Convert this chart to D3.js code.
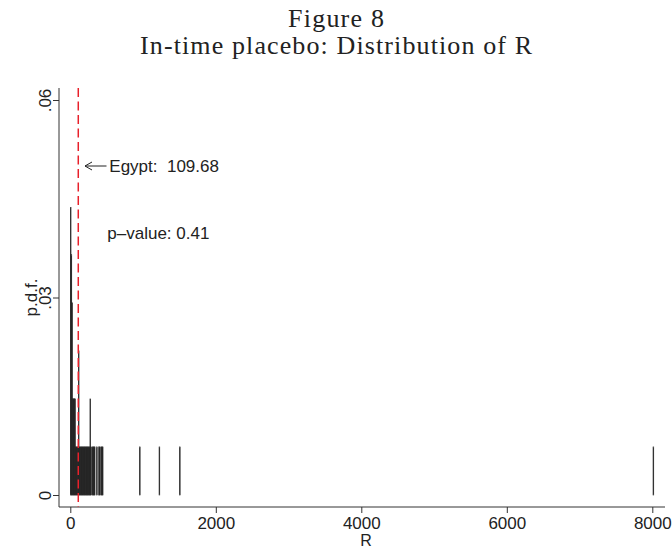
<!DOCTYPE html>
<html>
<head>
<meta charset="utf-8">
<script src="https://cdn.jsdelivr.net/npm/d3@7"></script>
<style>
  body { margin: 0; background: #fff; }
  svg { display: block; }
  text { font-family: "Liberation Sans", Arial, sans-serif; fill: #222; }
</style>
</head>
<body>
<svg id="chart" width="672" height="550"></svg>
<script>
// ---- Data ----
const titleLines = ["Figure 8", "In-time placebo: Distribution of R"];
const binWidth = 10;
const binStart = [0, 10, 20, 30, 40, 50, 60, 70, 80, 90, 100, 110, 120, 130, 140, 150, 160, 170, 180, 190, 200, 210, 220, 230, 240, 250, 260, 270, 280,
                  300, 310, 320, 330, 360, 390, 400, 420, 430, 440, 950, 1220, 1500, 8010];
const binDensity = [0.0437, 0.0365, 0.0292, 0.0146, 0.0146, 0.0146, 0.0146, 0.0073, 0.0073, 0.0073, 0.0073, 0.0219, 0.0073, 0.0073, 0.0073, 0.0073, 0.0073, 0.0073, 0.0073, 0.0073, 0.0073, 0.0073, 0.0073, 0.0073, 0.0073, 0.0073, 0.0073, 0.0146, 0.0073,
                    0.0073, 0.0073, 0.0073, 0.0073, 0.0073, 0.0073, 0.0073, 0.0073, 0.0073, 0.0073, 0.0073, 0.0073, 0.0073, 0.0073];
const xTicks = [0, 2000, 4000, 6000, 8000];
const yTicks = [0, 0.03, 0.06];
const yTickLabels = ["0", ".03", ".06"];
const egyptR = 109.68;
const egyptLabel = "Egypt:  109.68";
const pLabel = "p\u2013value: 0.41";
const xTitle = "R";
const yTitle = "p.d.f.";

// ---- Layout ----
const svg = d3.select("#chart");
const x = d3.scaleLinear().domain([0, 8000]).range([70.3, 652.3]);
const y = d3.scaleLinear().domain([0, 0.06]).range([495, 100]);
const plotLeft = 59, plotRight = 665, plotTop = 88, plotBottom = 507;
const ink = "#222";
const serif = "'Liberation Serif', 'Times New Roman', serif";

// Title
svg.append("text").attr("x", 336).attr("y", 27).attr("text-anchor", "middle")
  .style("font-family", serif).style("font-size", "26px")
  .attr("textLength", 96).attr("lengthAdjust", "spacing")
  .text(titleLines[0]);
svg.append("text").attr("x", 336).attr("y", 54).attr("text-anchor", "middle")
  .style("font-family", serif).style("font-size", "26px")
  .attr("textLength", 392).attr("lengthAdjust", "spacing")
  .text(titleLines[1]);

// Bars
const bins = binStart.map((s, i) => ({ s: s, d: binDensity[i] }));
svg.append("g").selectAll("rect").data(bins).join("rect")
  .attr("x", d => x(d.s))
  .attr("width", d => x(d.s + binWidth) - x(d.s))
  .attr("y", d => y(d.d))
  .attr("height", d => y(0) - y(d.d))
  .attr("fill", ink).attr("stroke", ink).attr("stroke-width", 0.6);

// Axis lines
svg.append("line").attr("x1", plotLeft).attr("x2", plotRight).attr("y1", plotBottom).attr("y2", plotBottom)
  .attr("stroke", "#333").attr("stroke-width", 1);
svg.append("line").attr("x1", plotLeft).attr("x2", plotLeft).attr("y1", plotTop).attr("y2", plotBottom)
  .attr("stroke", "#333").attr("stroke-width", 1);

// X axis
const xAxis = svg.append("g").attr("transform", `translate(0,${plotBottom})`)
  .call(d3.axisBottom(x).tickValues(xTicks).tickFormat(d3.format("d")).tickSize(6).tickPadding(4));
xAxis.select(".domain").remove();
xAxis.selectAll(".tick line").attr("stroke", "#333");
xAxis.selectAll(".tick text").style("font-size", "17px").style("font-family", "'Liberation Sans', Arial, sans-serif").attr("fill", ink);

// Y axis
const yAxis = svg.append("g").attr("transform", `translate(${plotLeft},0)`)
  .call(d3.axisLeft(y).tickValues(yTicks).tickFormat((d, i) => yTickLabels[i]).tickSize(6));
yAxis.select(".domain").remove();
yAxis.selectAll(".tick line").attr("stroke", "#333");
yAxis.selectAll(".tick text")
  .attr("transform", "rotate(-90)").attr("x", 0).attr("y", -8).attr("dy", 0)
  .attr("text-anchor", "middle")
  .style("font-size", "17px").style("font-family", "'Liberation Sans', Arial, sans-serif").attr("fill", ink);

// Axis titles
svg.append("text").attr("x", 366).attr("y", 546).attr("text-anchor", "middle")
  .style("font-size", "16px").text(xTitle);
svg.append("text").attr("transform", `translate(37,${y(0.03)}) rotate(-90)`).attr("text-anchor", "middle")
  .style("font-size", "17px").text(yTitle);

// Red dashed line at Egypt's R
svg.append("line").attr("x1", x(egyptR)).attr("x2", x(egyptR)).attr("y1", plotTop).attr("y2", plotBottom)
  .attr("stroke", "#e8202a").attr("stroke-width", 1.5).attr("stroke-dasharray", "9,4.5");

// Arrow + label
const ay = 166;
svg.append("line").attr("x1", 85).attr("x2", 106.5).attr("y1", ay).attr("y2", ay).attr("stroke", ink).attr("stroke-width", 1);
svg.append("path").attr("d", `M92,${ay - 4} L85,${ay} L92,${ay + 4}`).attr("fill", "none").attr("stroke", ink).attr("stroke-width", 1);
svg.append("text").attr("x", 109.3).attr("y", 172).style("font-size", "17px").style("white-space", "pre")
  .attr("xml:space", "preserve").text(egyptLabel);
svg.append("text").attr("x", 107.3).attr("y", 239).style("font-size", "17px").text(pLabel);
</script>
</body>
</html>
